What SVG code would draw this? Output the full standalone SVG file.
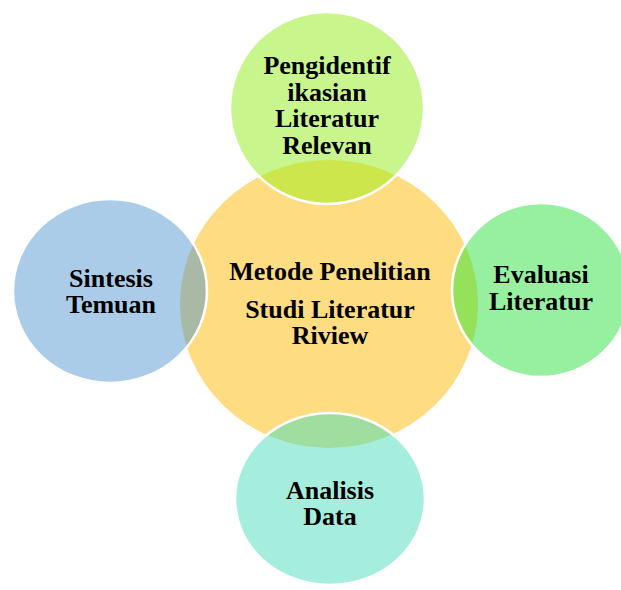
<svg xmlns="http://www.w3.org/2000/svg" width="621" height="590" viewBox="0 0 621 590">
<style>
.lbl{font-family:"Liberation Serif","Times New Roman",serif;font-weight:bold;font-size:26px;fill:#000;text-anchor:middle}
.edge{fill:none;stroke:#fff;stroke-width:2.5}
</style>
<defs>
<clipPath id="cc"><ellipse cx="329" cy="304" rx="149" ry="144"/></clipPath>
</defs>
<rect width="621" height="590" fill="#fff"/>
<g id="center">
<ellipse cx="329" cy="304" rx="149" ry="144" fill="#FEDC82"/>
</g>
<g id="top">
<ellipse cx="327" cy="108" rx="97" ry="96" fill="#C8F58C"/>
<ellipse cx="327" cy="108" rx="97" ry="96" fill="#CDE64B" clip-path="url(#cc)"/>
<ellipse class="edge" cx="327" cy="108" rx="97" ry="96"/>
<text class="lbl" x="327" y="74">Pengidentif</text>
<text class="lbl" x="327" y="100.7">ikasian</text>
<text class="lbl" x="327" y="127.4">Literatur</text>
<text class="lbl" x="327" y="154">Relevan</text>
</g>
<g id="left">
<ellipse cx="110" cy="291" rx="97" ry="92" fill="#ABCCE8"/>
<ellipse cx="110" cy="291" rx="97" ry="92" fill="#AAB9A5" clip-path="url(#cc)"/>
<ellipse class="edge" cx="110" cy="291" rx="97" ry="92"/>
<text class="lbl" x="111" y="287">Sintesis</text>
<text class="lbl" x="111" y="313">Temuan</text>
</g>
<g id="right">
<ellipse cx="541" cy="290" rx="89" ry="87" fill="#96F0A0"/>
<ellipse cx="541" cy="290" rx="89" ry="87" fill="#96E15A" clip-path="url(#cc)"/>
<ellipse class="edge" cx="541" cy="290" rx="89" ry="87"/>
<text class="lbl" x="541" y="283">Evaluasi</text>
<text class="lbl" x="541" y="310">Literatur</text>
</g>
<g id="bottom">
<ellipse cx="330" cy="499" rx="95" ry="86" fill="#A5EEDE"/>
<ellipse cx="330" cy="499" rx="95" ry="86" fill="#A0DEA0" clip-path="url(#cc)"/>
<ellipse class="edge" cx="330" cy="499" rx="95" ry="86"/>
<text class="lbl" x="330" y="499">Analisis</text>
<text class="lbl" x="330" y="525">Data</text>
</g>
<g id="center-label">
<text class="lbl" x="330" y="280">Metode Penelitian</text>
<text class="lbl" x="330" y="318">Studi Literatur</text>
<text class="lbl" x="330" y="344">Riview</text>
</g>
<g id="connectors"/>
</svg>
